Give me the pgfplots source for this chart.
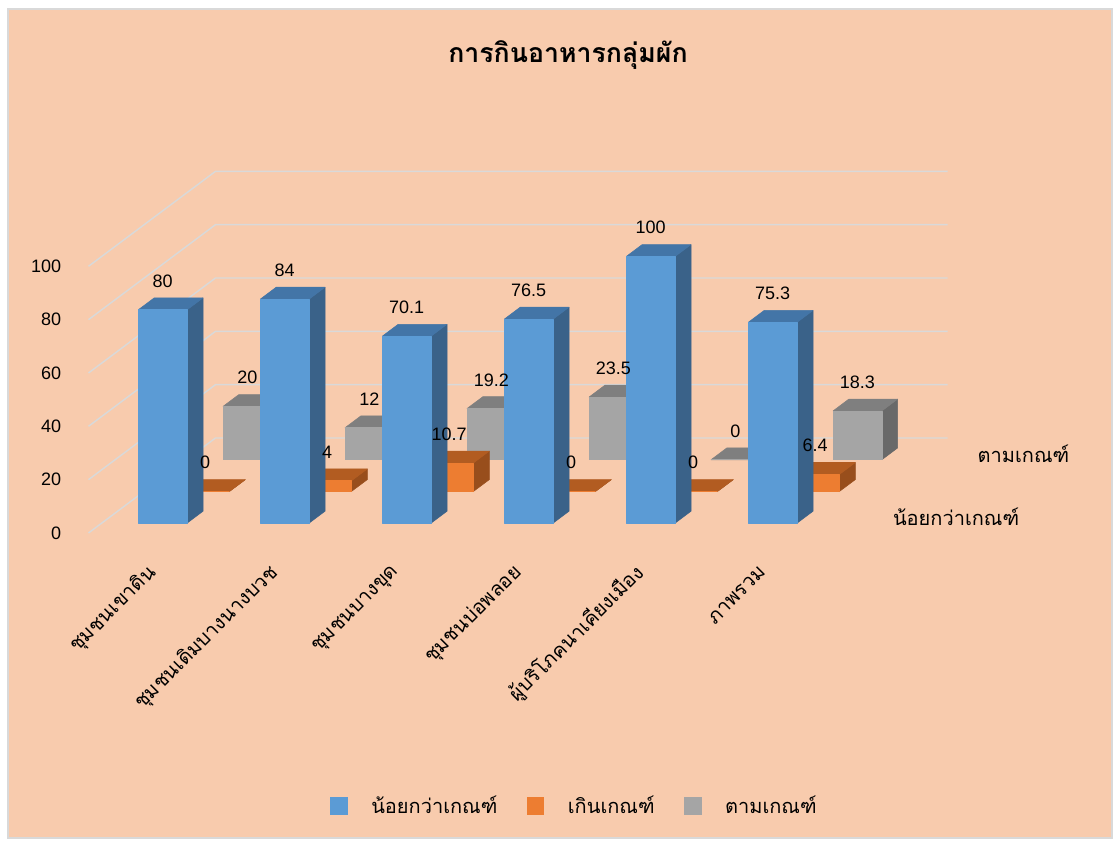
\documentclass[border=0pt]{standalone}
\usepackage{pgfplots}
\pgfplotsset{compat=1.18}
\usepackage{fontspec}
\setmainfont{Liberation Sans}
\newfontfamily\thaifont[Script=Thai]{Loma}
\definecolor{panel}{RGB}{248,203,173}
\definecolor{framec}{RGB}{217,217,217}
\definecolor{gridc}{RGB}{217,217,217}
\definecolor{bFront}{RGB}{91,155,213}
\definecolor{oFront}{RGB}{237,125,49}
\definecolor{gFront}{RGB}{165,165,165}
\begin{document}
\begin{tikzpicture}
\fill[white] (0pt,0pt) rectangle (840pt,630.75pt);
\fill[panel] (6pt,2.25pt) rectangle (834pt,624pt);
\draw[framec, line width=1.5pt] (6pt,2.25pt) rectangle (834pt,624pt);
\node[font=\thaifont\bfseries\fontsize{20}{20}\selectfont] at (426pt,589.5pt) {การกินอาหารกลุ่มผัก};
\begin{axis}[
  at={(112.125pt,231pt)}, anchor=origin,
  x={(91.5pt,0pt)}, y={(31.75pt,23.75pt)}, z={(0pt,2pt)},
  xmin=-0.5, xmax=5.5, ymin=0, ymax=3, zmin=0, zmax=100,
  clip=false,
  axis line style={draw=none},
  tick style={draw=none},
  xtick={0,1,2,3,4,5},
  xticklabels={ชุมชนเขาดิน, ชุมชนเดิมบางนางบวช, ชุมชนบางขุด, ชุมชนบ่อพลอย, ผู้บริโภคนาเคียงเมือง, ภาพรวม},
  ytick={0.5,2.5},
  yticklabels={น้อยกว่าเกณฑ์, ตามเกณฑ์},
  yticklabel pos=left,
  ztick={0,20,40,60,80,100},
  /pgf/number format/assume math mode=true,
  ticklabel style={font=\fontsize{13.5}{13.5}\selectfont, text=black},
  xticklabel style={font=\thaifont\fontsize{15}{15}\selectfont, yshift=-25pt, xshift=5pt, rotate=45, anchor=east},
  yticklabel style={font=\thaifont\fontsize{15}{15}\selectfont, anchor=west, xshift=35pt},
  zticklabel style={anchor=east, xshift=-17pt},
  z buffer=none,
  colormap access=direct,
  point meta min=0, point meta max=2,
  legend columns=3,
  legend style={at={(0.566,-0.754)}, anchor=center, draw=none, fill=none,
    font=\thaifont\fontsize{15}{15}\selectfont,
    /tikz/every odd column/.append style={column sep=16pt},
    /tikz/every even column/.append style={column sep=20pt}},
  legend image code/.code={\fill[#1] (0pt,-6.25pt) rectangle (12.5pt,6.25pt);},
]
\pgfplotsinvokeforeach{0,20,40,60,80,100}{
  \draw[gridc, line width=1.1pt] (axis cs:-0.5,0,#1) -- (axis cs:-0.5,3,#1) -- (axis cs:5.5,3,#1);
}
% gray series (ตามเกณฑ์), back
\addplot3[patch, patch type=rectangle, shader=flat, point meta=explicit, forget plot,
  colormap={gmap}{rgb255=(105,105,105) rgb255=(127,127,127) rgb255=(165,165,165)}]
coordinates {
(0.2,2.3125,0)[0] (0.2,2.6875,0)[0] (0.2,2.6875,20)[0] (0.2,2.3125,20)[0]
(-0.2,2.3125,20)[1] (0.2,2.3125,20)[1] (0.2,2.6875,20)[1] (-0.2,2.6875,20)[1]
(-0.2,2.3125,0)[2] (0.2,2.3125,0)[2] (0.2,2.3125,20)[2] (-0.2,2.3125,20)[2]
(1.2,2.3125,0)[0] (1.2,2.6875,0)[0] (1.2,2.6875,12)[0] (1.2,2.3125,12)[0]
(0.8,2.3125,12)[1] (1.2,2.3125,12)[1] (1.2,2.6875,12)[1] (0.8,2.6875,12)[1]
(0.8,2.3125,0)[2] (1.2,2.3125,0)[2] (1.2,2.3125,12)[2] (0.8,2.3125,12)[2]
(2.2,2.3125,0)[0] (2.2,2.6875,0)[0] (2.2,2.6875,19.2)[0] (2.2,2.3125,19.2)[0]
(1.8,2.3125,19.2)[1] (2.2,2.3125,19.2)[1] (2.2,2.6875,19.2)[1] (1.8,2.6875,19.2)[1]
(1.8,2.3125,0)[2] (2.2,2.3125,0)[2] (2.2,2.3125,19.2)[2] (1.8,2.3125,19.2)[2]
(3.2,2.3125,0)[0] (3.2,2.6875,0)[0] (3.2,2.6875,23.5)[0] (3.2,2.3125,23.5)[0]
(2.8,2.3125,23.5)[1] (3.2,2.3125,23.5)[1] (3.2,2.6875,23.5)[1] (2.8,2.6875,23.5)[1]
(2.8,2.3125,0)[2] (3.2,2.3125,0)[2] (3.2,2.3125,23.5)[2] (2.8,2.3125,23.5)[2]
(4.2,2.3125,0)[0] (4.2,2.6875,0)[0] (4.2,2.6875,0)[0] (4.2,2.3125,0)[0]
(3.8,2.3125,0)[1] (4.2,2.3125,0)[1] (4.2,2.6875,0)[1] (3.8,2.6875,0)[1]
(3.8,2.3125,0)[2] (4.2,2.3125,0)[2] (4.2,2.3125,0)[2] (3.8,2.3125,0)[2]
(5.2,2.3125,0)[0] (5.2,2.6875,0)[0] (5.2,2.6875,18.3)[0] (5.2,2.3125,18.3)[0]
(4.8,2.3125,18.3)[1] (5.2,2.3125,18.3)[1] (5.2,2.6875,18.3)[1] (4.8,2.6875,18.3)[1]
(4.8,2.3125,0)[2] (5.2,2.3125,0)[2] (5.2,2.3125,18.3)[2] (4.8,2.3125,18.3)[2]
};
% orange series (เกินเกณฑ์), middle
\addplot3[patch, patch type=rectangle, shader=flat, point meta=explicit, forget plot,
  colormap={omap}{rgb255=(152,78,28) rgb255=(178,92,33) rgb255=(237,125,49)}]
coordinates {
(0.2,1.3125,0)[0] (0.2,1.6875,0)[0] (0.2,1.6875,0)[0] (0.2,1.3125,0)[0]
(-0.2,1.3125,0)[1] (0.2,1.3125,0)[1] (0.2,1.6875,0)[1] (-0.2,1.6875,0)[1]
(-0.2,1.3125,0)[2] (0.2,1.3125,0)[2] (0.2,1.3125,0)[2] (-0.2,1.3125,0)[2]
(1.2,1.3125,0)[0] (1.2,1.6875,0)[0] (1.2,1.6875,4)[0] (1.2,1.3125,4)[0]
(0.8,1.3125,4)[1] (1.2,1.3125,4)[1] (1.2,1.6875,4)[1] (0.8,1.6875,4)[1]
(0.8,1.3125,0)[2] (1.2,1.3125,0)[2] (1.2,1.3125,4)[2] (0.8,1.3125,4)[2]
(2.2,1.3125,0)[0] (2.2,1.6875,0)[0] (2.2,1.6875,10.7)[0] (2.2,1.3125,10.7)[0]
(1.8,1.3125,10.7)[1] (2.2,1.3125,10.7)[1] (2.2,1.6875,10.7)[1] (1.8,1.6875,10.7)[1]
(1.8,1.3125,0)[2] (2.2,1.3125,0)[2] (2.2,1.3125,10.7)[2] (1.8,1.3125,10.7)[2]
(3.2,1.3125,0)[0] (3.2,1.6875,0)[0] (3.2,1.6875,0)[0] (3.2,1.3125,0)[0]
(2.8,1.3125,0)[1] (3.2,1.3125,0)[1] (3.2,1.6875,0)[1] (2.8,1.6875,0)[1]
(2.8,1.3125,0)[2] (3.2,1.3125,0)[2] (3.2,1.3125,0)[2] (2.8,1.3125,0)[2]
(4.2,1.3125,0)[0] (4.2,1.6875,0)[0] (4.2,1.6875,0)[0] (4.2,1.3125,0)[0]
(3.8,1.3125,0)[1] (4.2,1.3125,0)[1] (4.2,1.6875,0)[1] (3.8,1.6875,0)[1]
(3.8,1.3125,0)[2] (4.2,1.3125,0)[2] (4.2,1.3125,0)[2] (3.8,1.3125,0)[2]
(5.2,1.3125,0)[0] (5.2,1.6875,0)[0] (5.2,1.6875,6.4)[0] (5.2,1.3125,6.4)[0]
(4.8,1.3125,6.4)[1] (5.2,1.3125,6.4)[1] (5.2,1.6875,6.4)[1] (4.8,1.6875,6.4)[1]
(4.8,1.3125,0)[2] (5.2,1.3125,0)[2] (5.2,1.3125,6.4)[2] (4.8,1.3125,6.4)[2]
};
% blue series (น้อยกว่าเกณฑ์), front
\addplot3[patch, patch type=rectangle, shader=flat, point meta=explicit, forget plot,
  colormap={bmap}{rgb255=(58,98,137) rgb255=(67,117,167) rgb255=(91,155,213)}]
coordinates {
(0.2,0.3125,0)[0] (0.2,0.6875,0)[0] (0.2,0.6875,80)[0] (0.2,0.3125,80)[0]
(-0.2,0.3125,80)[1] (0.2,0.3125,80)[1] (0.2,0.6875,80)[1] (-0.2,0.6875,80)[1]
(-0.2,0.3125,0)[2] (0.2,0.3125,0)[2] (0.2,0.3125,80)[2] (-0.2,0.3125,80)[2]
(1.2,0.3125,0)[0] (1.2,0.6875,0)[0] (1.2,0.6875,84)[0] (1.2,0.3125,84)[0]
(0.8,0.3125,84)[1] (1.2,0.3125,84)[1] (1.2,0.6875,84)[1] (0.8,0.6875,84)[1]
(0.8,0.3125,0)[2] (1.2,0.3125,0)[2] (1.2,0.3125,84)[2] (0.8,0.3125,84)[2]
(2.2,0.3125,0)[0] (2.2,0.6875,0)[0] (2.2,0.6875,70.1)[0] (2.2,0.3125,70.1)[0]
(1.8,0.3125,70.1)[1] (2.2,0.3125,70.1)[1] (2.2,0.6875,70.1)[1] (1.8,0.6875,70.1)[1]
(1.8,0.3125,0)[2] (2.2,0.3125,0)[2] (2.2,0.3125,70.1)[2] (1.8,0.3125,70.1)[2]
(3.2,0.3125,0)[0] (3.2,0.6875,0)[0] (3.2,0.6875,76.5)[0] (3.2,0.3125,76.5)[0]
(2.8,0.3125,76.5)[1] (3.2,0.3125,76.5)[1] (3.2,0.6875,76.5)[1] (2.8,0.6875,76.5)[1]
(2.8,0.3125,0)[2] (3.2,0.3125,0)[2] (3.2,0.3125,76.5)[2] (2.8,0.3125,76.5)[2]
(4.2,0.3125,0)[0] (4.2,0.6875,0)[0] (4.2,0.6875,100)[0] (4.2,0.3125,100)[0]
(3.8,0.3125,100)[1] (4.2,0.3125,100)[1] (4.2,0.6875,100)[1] (3.8,0.6875,100)[1]
(3.8,0.3125,0)[2] (4.2,0.3125,0)[2] (4.2,0.3125,100)[2] (3.8,0.3125,100)[2]
(5.2,0.3125,0)[0] (5.2,0.6875,0)[0] (5.2,0.6875,75.3)[0] (5.2,0.3125,75.3)[0]
(4.8,0.3125,75.3)[1] (5.2,0.3125,75.3)[1] (5.2,0.6875,75.3)[1] (4.8,0.6875,75.3)[1]
(4.8,0.3125,0)[2] (5.2,0.3125,0)[2] (5.2,0.3125,75.3)[2] (4.8,0.3125,75.3)[2]
};
% data labels
\pgfplotsset{lbl/.style={draw=none, mark=none, forget plot, nodes near coords, point meta=explicit symbolic,
  every node near coord/.style={anchor=center, yshift=21.5pt, inner sep=0pt, text=black, font=\fontsize{13.5}{13.5}\selectfont}}}
\addplot3[lbl] coordinates {(0,2.3125,20)[20] (1,2.3125,12)[12] (2,2.3125,19.2)[19.2] (3,2.3125,23.5)[23.5] (4,2.3125,0)[0] (5,2.3125,18.3)[18.3]};
\addplot3[lbl] coordinates {(0,1.3125,0)[0] (1,1.3125,4)[4] (2,1.3125,10.7)[10.7] (3,1.3125,0)[0] (4,1.3125,0)[0] (5,1.3125,6.4)[6.4]};
\addplot3[lbl] coordinates {(0,0.3125,80)[80] (1,0.3125,84)[84] (2,0.3125,70.1)[70.1] (3,0.3125,76.5)[76.5] (4,0.3125,100)[100] (5,0.3125,75.3)[75.3]};
\addlegendimage{bFront}
\addlegendentry{น้อยกว่าเกณฑ์}
\addlegendimage{oFront}
\addlegendentry{เกินเกณฑ์}
\addlegendimage{gFront}
\addlegendentry{ตามเกณฑ์}
\end{axis}
\pgfresetboundingbox
\path[use as bounding box] (0pt,0pt) rectangle (840pt,630.75pt);
\end{tikzpicture}
\end{document}
